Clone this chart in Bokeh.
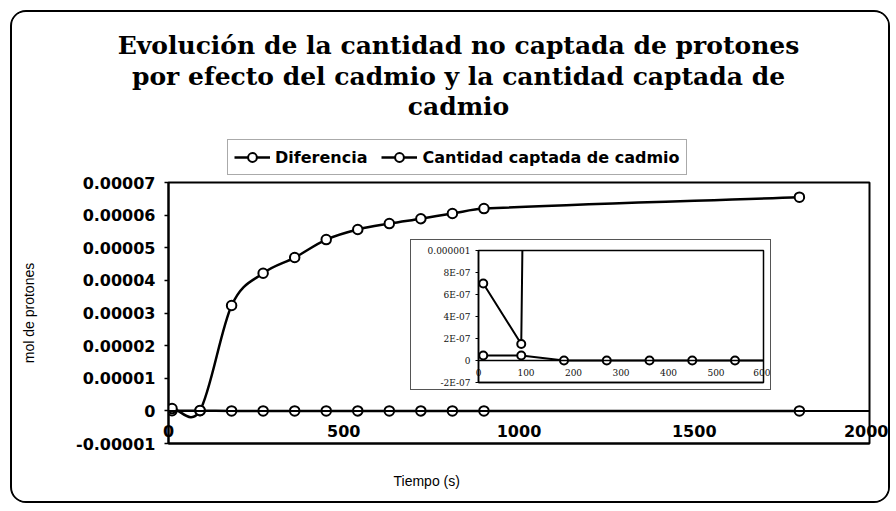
import numpy as np
from bokeh.plotting import figure
from bokeh.models import (FixedTicker, GridBox, Range1d, Label,
                          ColumnDataSource, Span, Spacer, Row, Column)
from bokeh.embed import file_html
from bokeh.resources import INLINE

# ---------------- data ----------------
titulo = ["Evolución de la cantidad no captada de protones",
          "por efecto del cadmio y la cantidad captada de",
          "cadmio"]
tiempo = [10, 90, 180, 270, 360, 450, 540, 630, 720, 810, 900, 1800]
diferencia = [4.5e-8, 4.5e-8, 0.0, 0.0, 0.0, 0.0, 0.0, 0.0, 0.0, 0.0, 0.0, 0.0]
cadmio = [7.0e-7, 1.5e-7, 3.23e-5, 4.22e-5, 4.70e-5, 5.25e-5, 5.56e-5, 5.74e-5,
          5.89e-5, 6.05e-5, 6.20e-5, 6.55e-5]

x_ticks = [0, 500, 1000, 1500, 2000]
x_tick_labels = ["0", "500", "1000", "1500", "2000"]
y_ticks = [-0.00001, 0, 0.00001, 0.00002, 0.00003, 0.00004, 0.00005, 0.00006, 0.00007]
y_tick_labels = ["-0.00001", "0", "0.00001", "0.00002", "0.00003", "0.00004",
                 "0.00005", "0.00006", "0.00007"]

ins_x_ticks = [0, 100, 200, 300, 400, 500, 600]
ins_x_tick_labels = ["0", "100", "200", "300", "400", "500", "600"]
ins_y_ticks = [-0.0000002, 0, 0.0000002, 0.0000004, 0.0000006, 0.0000008, 0.000001]
ins_y_tick_labels = ["-2E-07", "0", "2E-07", "4E-07", "6E-07", "8E-07", "0.000001"]

serie_dif = "Diferencia"
serie_cad = "Cantidad captada de cadmio"
x_label = "Tiempo (s)"
y_label = "mol de protones"


def smooth(xs, ys):
    """Bezier control points (Hermite tangents) so the library draws a smoothed line."""
    x = np.asarray(xs, float)
    y = np.asarray(ys, float)
    m = np.empty(len(x))
    m[1:-1] = (y[2:] - y[:-2]) / (x[2:] - x[:-2])
    m[0] = (y[1] - y[0]) / (x[1] - x[0])
    m[-1] = (y[-1] - y[-2]) / (x[-1] - x[-2])
    d = (x[1:] - x[:-1]) / 3.0
    return ColumnDataSource(dict(
        x0=x[:-1], y0=y[:-1], x1=x[1:], y1=y[1:],
        cx0=x[:-1] + d, cy0=y[:-1] + m[:-1] * d,
        cx1=x[1:] - d, cy1=y[1:] - m[1:] * d))


SANS = "DejaVu Sans"
ARIAL = "Liberation Sans"
SERIF = "DejaVu Serif"

# ---------------- main figure (plot area + axes) ----------------
p = figure(width=880, height=493, x_range=Range1d(0, 2000), y_range=Range1d(-0.00001, 0.00007),
           output_backend="svg", toolbar_location=None, title=None,
           min_border_left=156, min_border_right=23, min_border_top=170, min_border_bottom=62)
p.styles = {"border": "2px solid black", "border-radius": "16px", "overflow": "hidden"}
p.border_fill_color = "white"
p.background_fill_color = "white"
p.outline_line_color = "black"
p.outline_line_width = 2
p.xgrid.visible = False
p.ygrid.visible = False

for ax in (p.xaxis[0], p.yaxis[0]):
    ax.axis_line_color = "black"
    ax.axis_line_width = 2
    ax.major_tick_line_color = "black"
    ax.major_tick_line_width = 1.5
    ax.minor_tick_line_color = None
    ax.major_label_text_font = SANS
    ax.major_label_text_font_style = "bold"
    ax.major_label_text_font_size = "16px"
    ax.major_label_text_color = "black"

p.xaxis.ticker = FixedTicker(ticks=x_ticks)
p.xaxis.major_label_overrides = dict(zip(x_ticks, x_tick_labels))
p.xaxis.major_tick_in = 0
p.xaxis.major_tick_out = 0
p.xaxis.major_label_standoff = -19

p.yaxis.ticker = FixedTicker(ticks=y_ticks)
p.yaxis.major_label_overrides = dict(zip(y_ticks, y_tick_labels))
p.yaxis.major_tick_in = 0
p.yaxis.major_tick_out = 4
p.yaxis.major_label_standoff = 9
p.yaxis.axis_label = y_label
p.yaxis.axis_label_text_font = ARIAL
p.yaxis.axis_label_text_font_style = "normal"
p.yaxis.axis_label_text_font_size = "14px"
p.yaxis.axis_label_text_color = "black"
p.yaxis.axis_label_standoff = 36

p.add_layout(Span(location=0, dimension="width", line_color="black", line_width=2))

p.bezier(x0="x0", y0="y0", x1="x1", y1="y1", cx0="cx0", cy0="cy0", cx1="cx1", cy1="cy1",
         source=smooth(tiempo, diferencia), line_color="black", line_width=2.5)
p.bezier(x0="x0", y0="y0", x1="x1", y1="y1", cx0="cx0", cy0="cy0", cx1="cx1", cy1="cy1",
         source=smooth(tiempo, cadmio), line_color="black", line_width=2.5)
p.scatter(tiempo, diferencia, marker="circle", size=9.5, line_color="black", line_width=2,
          fill_color="white")
p.scatter(tiempo, cadmio, marker="circle", size=9.5, line_color="black", line_width=2,
          fill_color="white")

# ---------------- header layer: title, legend, x axis title ----------------
hf = figure(width=790, height=495, x_range=Range1d(-2, -1), y_range=Range1d(-2, -1),
            output_backend="svg", toolbar_location=None, title=None,
            x_axis_location=None, y_axis_location=None,
            min_border_left=0, min_border_right=0, min_border_top=0, min_border_bottom=0)
hf.border_fill_color = None
hf.background_fill_color = None
hf.outline_line_color = None
hf.xgrid.visible = False
hf.ygrid.visible = False
# legend swatches (the series themselves lie outside this layer's ranges)
hf.line(tiempo, diferencia, line_color="black", line_width=2.5, legend_label=serie_dif)
hf.scatter(tiempo, diferencia, marker="circle", size=9.5, line_color="black", line_width=2,
           fill_color="white", legend_label=serie_dif)
hf.line(tiempo, cadmio, line_color="black", line_width=2.5, legend_label=serie_cad)
hf.scatter(tiempo, cadmio, marker="circle", size=9.5, line_color="black", line_width=2,
           fill_color="white", legend_label=serie_cad)
lg = hf.legend[0]
lg.location = "top_left"
lg.margin = 129
lg.orientation = "horizontal"
lg.padding = 6
lg.spacing = 14
lg.glyph_width = 36
lg.glyph_height = 22
lg.label_standoff = 5
lg.label_text_font = SANS
lg.label_text_font_style = "bold"
lg.label_text_font_size = "16px"
lg.label_text_color = "black"
lg.border_line_color = "#555555"
lg.border_line_width = 1
lg.background_fill_color = "white"

for txt, yy in zip(titulo, [460, 429, 399]):
    hf.add_layout(Label(x=360, y=yy, x_units="screen", y_units="screen", text=txt,
                        text_align="center", text_baseline="middle", text_font=SERIF,
                        text_font_style="bold", text_font_size="25px", text_color="black"))
hf.add_layout(Label(x=295, y=25, x_units="screen", y_units="screen", text=x_label,
                    text_align="left", text_baseline="middle", text_font=ARIAL,
                    text_font_size="14px", text_color="black"))

# ---------------- inset figure ----------------
ins = figure(width=361, height=151, x_range=Range1d(0, 600), y_range=Range1d(-0.0000002, 0.000001),
             output_backend="svg", toolbar_location=None, title=None,
             min_border_left=67, min_border_right=9, min_border_top=10, min_border_bottom=9)
ins.styles = {"border": "1px solid #555555"}
ins.background_fill_color = "white"
ins.border_fill_color = "white"
ins.outline_line_color = "black"
ins.outline_line_width = 1.5
ins.xgrid.visible = False
ins.ygrid.visible = False
for ax in (ins.xaxis[0], ins.yaxis[0]):
    ax.axis_line_color = "black"
    ax.axis_line_width = 1.5
    ax.major_tick_line_color = "black"
    ax.minor_tick_line_color = None
    ax.major_label_text_font = SERIF
    ax.major_label_text_font_size = "9px"
    ax.major_label_text_color = "#111111"
ix = ins.xaxis[0]
ix.ticker = FixedTicker(ticks=ins_x_ticks)
ix.major_label_overrides = dict(zip(ins_x_ticks, ins_x_tick_labels))
ix.major_tick_in = 0
ix.major_tick_out = 0
ix.major_label_standoff = -14
iy = ins.yaxis[0]
iy.ticker = FixedTicker(ticks=ins_y_ticks)
iy.major_label_overrides = dict(zip(ins_y_ticks, ins_y_tick_labels))
iy.major_tick_in = 0
iy.major_tick_out = 3
iy.major_label_standoff = 5

ins.add_layout(Span(location=0, dimension="width", line_color="black", line_width=1.5))
ins.line(tiempo, cadmio, line_color="black", line_width=2)
ins.line(tiempo, diferencia, line_color="black", line_width=2)
ins.scatter(tiempo, cadmio, marker="circle", size=8, line_color="black", line_width=2,
            fill_color="white")
ins.scatter(tiempo, diferencia, marker="circle", size=8, line_color="black", line_width=2,
            fill_color="white")

layer_main = Column(children=[Spacer(width=10, height=10), Row(children=[Spacer(width=10, height=10), p])])
layer_ins = Column(children=[Spacer(width=10, height=239), Row(children=[Spacer(width=410, height=10), ins])])
layer_head = Column(children=[Spacer(width=10, height=10), Row(children=[Spacer(width=98, height=10), hf])])
root = GridBox(children=[(layer_main, 0, 0), (layer_ins, 0, 0), (layer_head, 0, 0)])

open("out.html", "w").write(file_html(root, INLINE))
